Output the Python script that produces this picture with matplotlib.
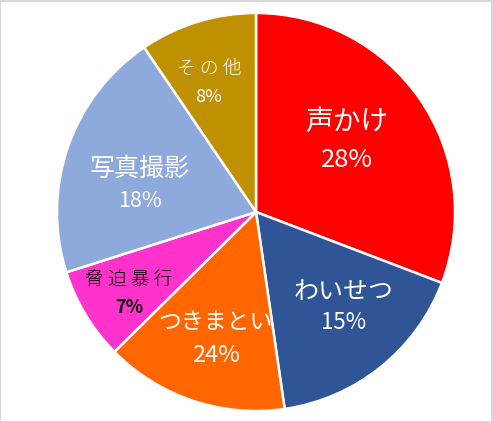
import numpy as np
import matplotlib.pyplot as plt
from matplotlib.patches import Rectangle

plt.rcParams['font.family'] = ['Noto Sans CJK JP', 'DejaVu Sans']

# categories, slice sizes and the printed labels
categories = ['声かけ', 'わいせつ', 'つきまとい', '脅 迫 暴 行', '写真撮影', 'そ の 他']
shares = [30.8, 16.9, 14.9, 7.5, 20.4, 9.5]
pct_labels = ['28%', '15%', '24%', '7%', '18%', '8%']

colors = ['#FF0000', '#2F5597', '#FF6600', '#FF33CC', '#8EA9DB', '#BF9000']
text_colors = ['white', 'white', 'white', 'black', 'white', 'white']
name_sizes = [20, 18, 16.5, 13.5, 18, 13.5]
pct_sizes = [18.5, 16, 17, 13, 15.5, 13]
name_weights = ['normal', 'normal', 'normal', 'light', 'normal', 'light']
pct_weights = ['normal', 'normal', 'normal', 'bold', 'normal', 'normal']
label_r = [0.58, 0.65, 0.67, 0.76, 0.60, 0.69]
angle_nudge = [3.4, 4, 1, 1.7, 6, 3]
gap = [0.095, 0.077, 0.082, 0.07, 0.08, 0.07]

W, H = 493, 422
cx, cy, R = 256, 212, 201

fig = plt.figure(figsize=(W / 100, H / 100), dpi=100)
ax = fig.add_axes([(cx - R) / W, (H - cy - R) / H, 2 * R / W, 2 * R / H])

wedges, _ = ax.pie(shares, colors=colors, startangle=90, counterclock=False,
                   radius=1, wedgeprops=dict(edgecolor='white', linewidth=1.8))
ax.set_xlim(-1.01, 1.01)
ax.set_ylim(-1.01, 1.01)
ax.set_aspect('auto')
ax.axis('off')

for i, w in enumerate(wedges):
    mid = np.deg2rad((w.theta1 + w.theta2) / 2 + angle_nudge[i])
    x = label_r[i] * np.cos(mid)
    y = label_r[i] * np.sin(mid)
    ax.text(x, y + gap[i], categories[i], ha='center', va='center',
            fontsize=name_sizes[i], color=text_colors[i], fontweight=name_weights[i])
    ax.text(x, y - gap[i], pct_labels[i], ha='center', va='center',
            fontsize=pct_sizes[i], color=text_colors[i], fontweight=pct_weights[i])

fig.patches.append(Rectangle((0.001, 0.001), 0.997, 0.997, transform=fig.transFigure,
                             fill=False, edgecolor='#D0D0D0', linewidth=1.2))

fig.savefig('out.png', dpi=100)
